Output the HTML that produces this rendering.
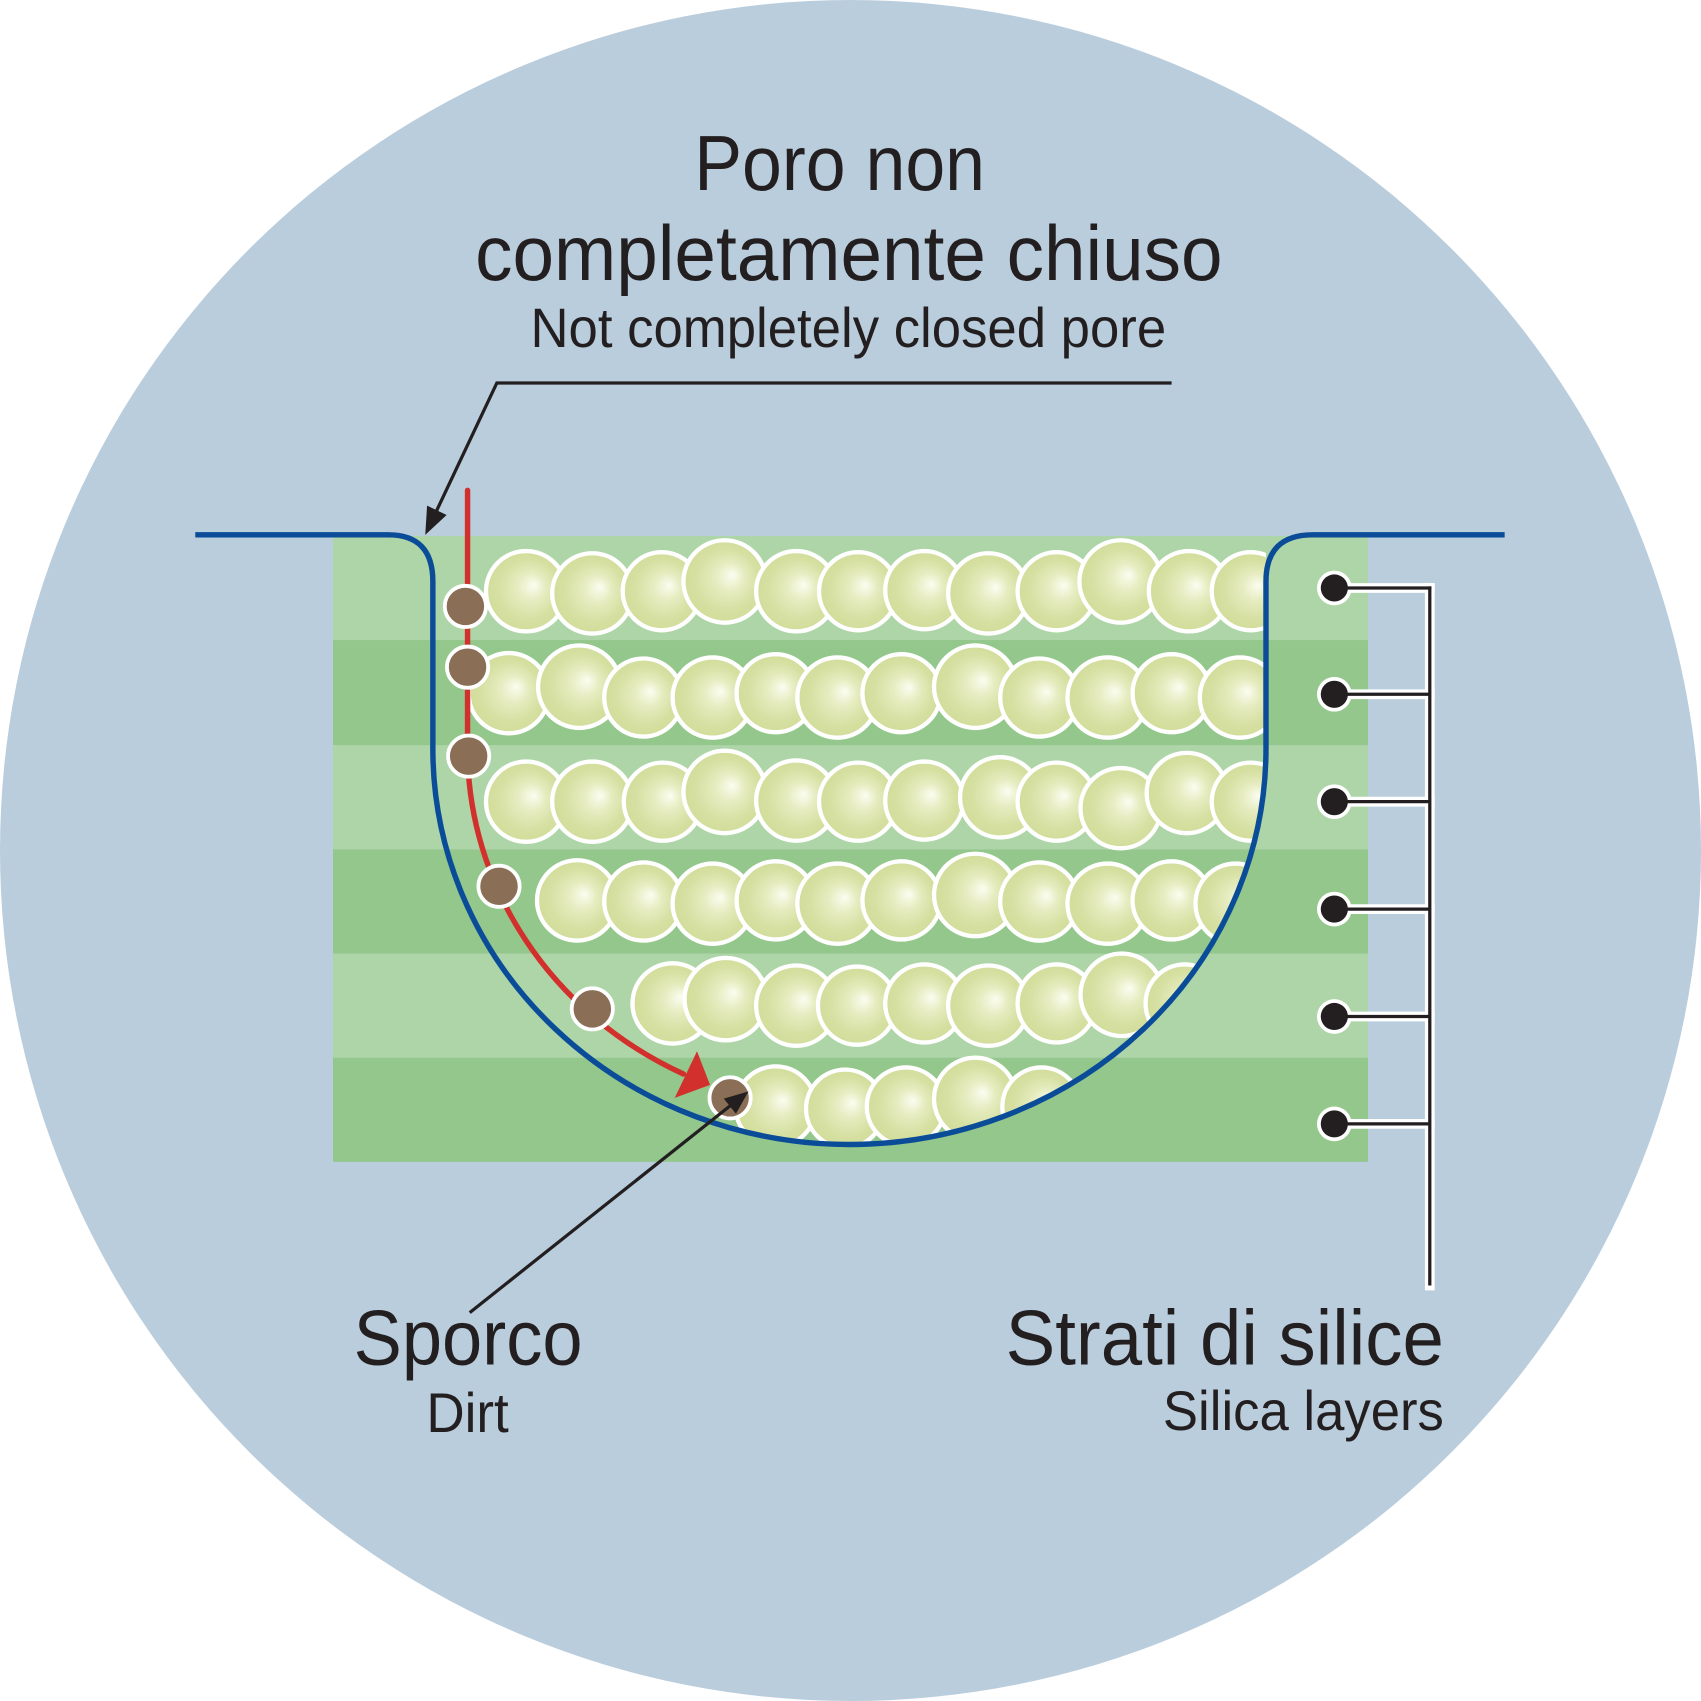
<!DOCTYPE html>
<html>
<head>
<meta charset="utf-8">
<style>
  html,body{margin:0;padding:0;background:#ffffff;}
  svg{display:block;}
  text{font-family:"Liberation Sans","DejaVu Sans",sans-serif;fill:#231f20;}
</style>
</head>
<body>
<svg width="1701" height="1701" viewBox="0 0 1568 1568" xmlns="http://www.w3.org/2000/svg">
  <defs>
    <radialGradient id="sph" cx="0.5" cy="0.5" r="0.5" fx="0.6" fy="0.42">
      <stop offset="0" stop-color="#fbfdf0"/>
      <stop offset="0.35" stop-color="#e6ecc0"/>
      <stop offset="0.75" stop-color="#d6e0a2"/>
      <stop offset="1" stop-color="#d2dc9a"/>
    </radialGradient>
    <clipPath id="pore">
      <path d="M399,470 L399,690 A384,365 0 0 0 1167,690 L1167,470 Z"/>
    </clipPath>
  </defs>

  <!-- background circle -->
  <circle cx="784" cy="784" r="784" fill="#bacddd"/>

  <!-- green bands -->
  <rect x="307" y="494" width="954" height="97" fill="#aed5a7"/>
  <rect x="307" y="590" width="954" height="97" fill="#93c78b"/>
  <rect x="307" y="687" width="954" height="96" fill="#aed5a7"/>
  <rect x="307" y="783" width="954" height="96" fill="#93c78b"/>
  <rect x="307" y="879" width="954" height="96" fill="#aed5a7"/>
  <rect x="307" y="975" width="954" height="96" fill="#93c78b"/>

  <!-- spheres -->
  <g clip-path="url(#pore)" fill="url(#sph)" stroke="#ffffff" stroke-width="4">
    <!-- row 1 -->
    <circle cx="485" cy="545" r="37"/>
    <circle cx="546" cy="547" r="37"/>
    <circle cx="610" cy="545" r="36"/>
    <circle cx="668" cy="536" r="38"/>
    <circle cx="734" cy="545" r="37"/>
    <circle cx="791" cy="545" r="36"/>
    <circle cx="852" cy="544" r="36"/>
    <circle cx="911" cy="547" r="37"/>
    <circle cx="974" cy="545" r="36"/>
    <circle cx="1033" cy="536" r="38"/>
    <circle cx="1096" cy="545" r="37"/>
    <circle cx="1153" cy="545" r="36"/>
    <!-- row 2 -->
    <circle cx="469" cy="639" r="37"/>
    <circle cx="534" cy="633" r="38"/>
    <circle cx="593" cy="643" r="36"/>
    <circle cx="657" cy="643" r="37"/>
    <circle cx="715" cy="639" r="36"/>
    <circle cx="772" cy="643" r="37"/>
    <circle cx="831" cy="639" r="36"/>
    <circle cx="899" cy="633" r="38"/>
    <circle cx="958" cy="643" r="36"/>
    <circle cx="1021" cy="643" r="37"/>
    <circle cx="1080" cy="639" r="36"/>
    <circle cx="1143" cy="643" r="37"/>
    <!-- row 3 -->
    <circle cx="485" cy="739" r="37"/>
    <circle cx="546" cy="739" r="37"/>
    <circle cx="611" cy="739" r="36"/>
    <circle cx="668" cy="730" r="38"/>
    <circle cx="734" cy="738" r="37"/>
    <circle cx="791" cy="739" r="36"/>
    <circle cx="852" cy="738" r="36"/>
    <circle cx="922" cy="735" r="37"/>
    <circle cx="974" cy="739" r="36"/>
    <circle cx="1033" cy="745" r="37"/>
    <circle cx="1094" cy="731" r="37"/>
    <circle cx="1153" cy="739" r="36"/>
    <!-- row 4 -->
    <circle cx="532" cy="830" r="37"/>
    <circle cx="593" cy="831" r="36"/>
    <circle cx="657" cy="833" r="37"/>
    <circle cx="715" cy="830" r="36"/>
    <circle cx="772" cy="833" r="37"/>
    <circle cx="831" cy="830" r="36"/>
    <circle cx="899" cy="825" r="38"/>
    <circle cx="958" cy="831" r="36"/>
    <circle cx="1021" cy="833" r="37"/>
    <circle cx="1080" cy="830" r="36"/>
    <circle cx="1139" cy="833" r="37"/>
    <!-- row 5 -->
    <circle cx="620" cy="925" r="37"/>
    <circle cx="669" cy="921" r="38"/>
    <circle cx="734" cy="927" r="37"/>
    <circle cx="790" cy="927" r="36"/>
    <circle cx="852" cy="925" r="36"/>
    <circle cx="911" cy="927" r="37"/>
    <circle cx="974" cy="925" r="36"/>
    <circle cx="1034" cy="917" r="38"/>
    <circle cx="1092" cy="925" r="36"/>
    <!-- row 6 -->
    <circle cx="715" cy="1020" r="37"/>
    <circle cx="779" cy="1022" r="36"/>
    <circle cx="835" cy="1020" r="36"/>
    <circle cx="899" cy="1013" r="38"/>
    <circle cx="960" cy="1020" r="36"/>
  </g>

  <!-- blue pore outline -->
  <path d="M180,493 L358,493 Q399,493 399,536 L399,690 A384,365 0 0 0 1167,690 L1167,536 Q1167,493 1210,493 L1387,493"
        fill="none" stroke="#0b4c99" stroke-width="5"/>

  <!-- red path -->
  <path d="M431,452 L431,690 A352,333 0 0 0 630,990" fill="none" stroke="#d2302c" stroke-width="5" stroke-linecap="round"/>
  <polygon points="654.5,1000 642.5,969 622,1012" fill="#d2302c"/>

  <!-- dirt particles -->
  <g fill="#8a6e55" stroke="#ffffff" stroke-width="3.5">
    <circle cx="429" cy="559" r="19"/>
    <circle cx="431" cy="615" r="19"/>
    <circle cx="432" cy="697" r="19"/>
    <circle cx="460" cy="817" r="19"/>
    <circle cx="546" cy="930" r="19"/>
    <circle cx="673" cy="1012" r="19"/>
  </g>

  <!-- leader top -->
  <polyline points="1080,353 458,353 400,476" fill="none" stroke="#231f20" stroke-width="3"/>
  <polygon points="392,493 411.7,474.7 393.7,466.1" fill="#231f20"/>

  <!-- leader dirt -->
  <line x1="433" y1="1210" x2="676" y2="1017" stroke="#231f20" stroke-width="3"/>
  <polygon points="690,1006 678.4,1026.7 667.2,1012.7" fill="#231f20"/>

  <!-- silica bracket -->
  <g stroke="#ffffff" stroke-width="9" fill="none" stroke-linecap="square">
    <line x1="1318" y1="542" x2="1318" y2="1185"/>
    <line x1="1230" y1="542" x2="1318" y2="542"/>
    <line x1="1230" y1="640" x2="1318" y2="640"/>
    <line x1="1230" y1="739" x2="1318" y2="739"/>
    <line x1="1230" y1="838" x2="1318" y2="838"/>
    <line x1="1230" y1="937" x2="1318" y2="937"/>
    <line x1="1230" y1="1036" x2="1318" y2="1036"/>
  </g>
  <g fill="#ffffff">
    <circle cx="1230" cy="542" r="16"/>
    <circle cx="1230" cy="640" r="16"/>
    <circle cx="1230" cy="739" r="16"/>
    <circle cx="1230" cy="838" r="16"/>
    <circle cx="1230" cy="937" r="16"/>
    <circle cx="1230" cy="1036" r="16"/>
  </g>
  <g stroke="#231f20" stroke-width="3" fill="none">
    <line x1="1318" y1="540.5" x2="1318" y2="1185"/>
    <line x1="1230" y1="542" x2="1319.5" y2="542"/>
    <line x1="1230" y1="640" x2="1318" y2="640"/>
    <line x1="1230" y1="739" x2="1318" y2="739"/>
    <line x1="1230" y1="838" x2="1318" y2="838"/>
    <line x1="1230" y1="937" x2="1318" y2="937"/>
    <line x1="1230" y1="1036" x2="1318" y2="1036"/>
  </g>
  <g fill="#231f20">
    <circle cx="1230" cy="542" r="12.5"/>
    <circle cx="1230" cy="640" r="12.5"/>
    <circle cx="1230" cy="739" r="12.5"/>
    <circle cx="1230" cy="838" r="12.5"/>
    <circle cx="1230" cy="937" r="12.5"/>
    <circle cx="1230" cy="1036" r="12.5"/>
  </g>

  <!-- texts -->
  <text x="640" y="175" font-size="72" textLength="268" lengthAdjust="spacingAndGlyphs">Poro non</text>
  <text x="438" y="258" font-size="72" textLength="689" lengthAdjust="spacingAndGlyphs">completamente chiuso</text>
  <text x="489" y="320" font-size="51" textLength="586" lengthAdjust="spacingAndGlyphs">Not completely closed pore</text>

  <text x="326" y="1258" font-size="72" textLength="211" lengthAdjust="spacingAndGlyphs">Sporco</text>
  <text x="393" y="1320" font-size="51" textLength="76" lengthAdjust="spacingAndGlyphs">Dirt</text>

  <text x="927" y="1258" font-size="72" textLength="404" lengthAdjust="spacingAndGlyphs">Strati di silice</text>
  <text x="1072" y="1318" font-size="51" textLength="259" lengthAdjust="spacingAndGlyphs">Silica layers</text>
</svg>
</body>
</html>
